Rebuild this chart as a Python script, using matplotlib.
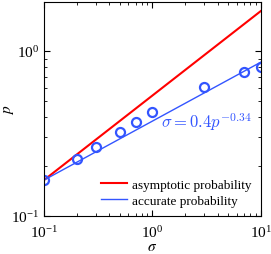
import numpy as np
import matplotlib
matplotlib.use('Agg')
import matplotlib.pyplot as plt

plt.rcParams['font.family'] = ['Liberation Serif', 'DejaVu Serif']
plt.rcParams['mathtext.fontset'] = 'stix'

# measured points (sigma, p)
sigma_pts = [0.1, 0.2, 0.3, 0.5, 0.7, 1.0, 3.0, 7.0, 10.0]
p_pts = [0.165, 0.221, 0.263, 0.324, 0.373, 0.425, 0.608, 0.749, 0.796]

# line endpoints
sigma_line = [0.1, 10.0]
p_asym = [0.165, 1.75]
p_acc = [0.165, 0.857]

fig = plt.figure(figsize=(2.71, 2.55), dpi=100)
ax = fig.add_axes([0.162, 0.149, 0.801, 0.839])

ax.plot(sigma_line, p_asym, color='#ff0000', lw=1.5, label='asymptotic probability')
ax.plot(sigma_line, p_acc, color='#3355ff', lw=1.0, label='accurate probability')
ax.plot(sigma_pts, p_pts, 'o', mfc='none', mec='#3355ff', ms=6.5, mew=1.6)

ax.set_xscale('log'); ax.set_yscale('log')
ax.set_xlim(0.1, 10); ax.set_ylim(0.1, 1.98)
ax.tick_params(which='both', direction='in', top=True, right=True, labelsize=11)
ax.tick_params(which='major', length=4)
ax.tick_params(which='minor', length=2)
ax.tick_params(axis='x', pad=6)

ax.set_xlabel(r'$\sigma$', fontsize=11, labelpad=0)
ax.set_ylabel(r'$p$', fontsize=11)
ax.yaxis.set_label_coords(-0.13, 0.5)

ax.text(1.2, 0.345, r'$\sigma = 0.4p^{-0.34}$', color='#3355ff', fontsize=12,
        math_fontfamily='cm')

ax.legend(loc='lower right', frameon=False, fontsize=9.5, handlelength=2.0,
          handletextpad=0.4, borderaxespad=0.3, labelspacing=0.3)

fig.savefig('out.png', dpi=100)
